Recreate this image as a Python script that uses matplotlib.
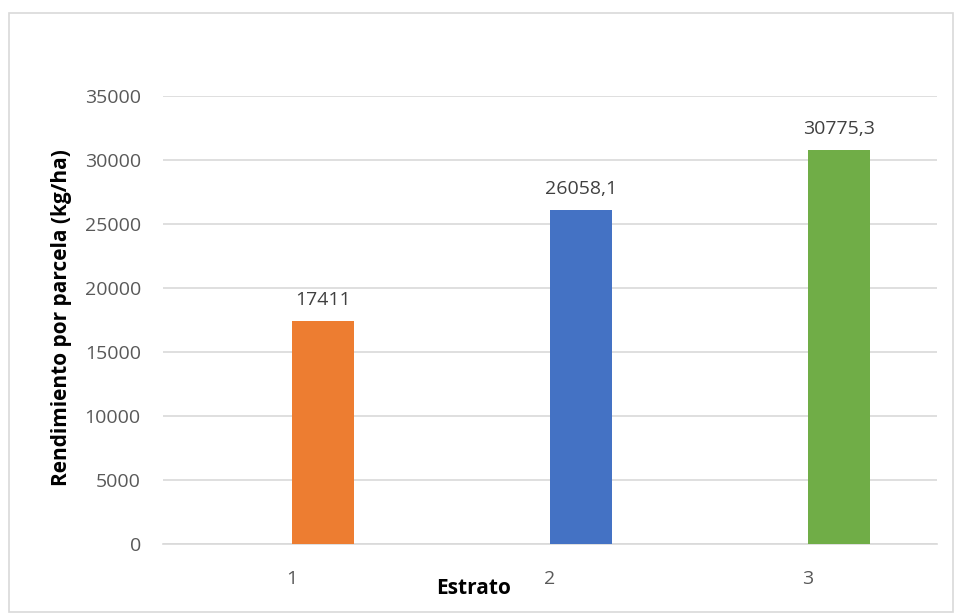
import matplotlib
matplotlib.use("Agg")
import matplotlib.pyplot as plt
from matplotlib.patches import Rectangle

categories = ["1", "2", "3"]
rendimiento = [17411, 26058.1, 30775.3]
colores = ["#ED7D31", "#4472C4", "#70AD47"]
y_ticks = [0, 5000, 10000, 15000, 20000, 25000, 30000, 35000]

plt.rcParams["font.family"] = ["Open Sans", "DejaVu Sans"]

W, H = 955, 614
fig = plt.figure(figsize=(W / 100, H / 100), dpi=100)

# light frame around the chart area
fig.patches.append(Rectangle((9 / W, 2 / H), 944 / W, (H - 13 - 2) / H,
                             transform=fig.transFigure, fill=False,
                             edgecolor="#D9D9D9", linewidth=1.2))

ax = fig.add_axes([163 / W, (H - 544) / H, (937 - 163) / W, (544 - 96) / H])

x = list(range(len(categories)))
bar_w = 0.24
ax.bar(x, rendimiento, width=bar_w, align="edge", color=colores, zorder=3)

def fmt(v):
    s = f"{v:.1f}".rstrip("0").rstrip(".")
    return s.replace(".", ",")

for i, v in zip(x, rendimiento):
    ax.annotate(fmt(v), xy=(i + bar_w / 2, v), xytext=(0, 11.5),
                textcoords="offset points", ha="center", va="baseline",
                fontsize=14, color="#404040")

ax.set_xlim(-0.5, len(categories) - 0.5)
ax.set_ylim(0, 35000)
ax.set_yticks(y_ticks)
ax.set_yticklabels([str(t) for t in y_ticks])
ax.set_xticks(x)
ax.set_xticklabels(categories)
ax.yaxis.grid(True, color="#D9D9D9", linewidth=1.2, zorder=0)
ax.set_axisbelow(True)
for sp in ["top", "right", "left"]:
    ax.spines[sp].set_visible(False)
ax.spines["bottom"].set_color("#D9D9D9")
ax.spines["bottom"].set_linewidth(1.2)
ax.tick_params(axis="both", length=0, labelsize=14, labelcolor="#595959")
ax.tick_params(axis="y", pad=16)
ax.tick_params(axis="x", pad=19)

fig.text(474 / W, 1 - 588 / H, "Estrato", ha="center", va="center",
         fontsize=15, fontweight="bold", color="black")
fig.text(62 / W, 1 - 318 / H, "Rendimiento por parcela (kg/ha)", ha="center",
         va="center", rotation=90, fontsize=15, fontweight="bold", color="black")

fig.savefig("out.png", dpi=100, facecolor="white")
